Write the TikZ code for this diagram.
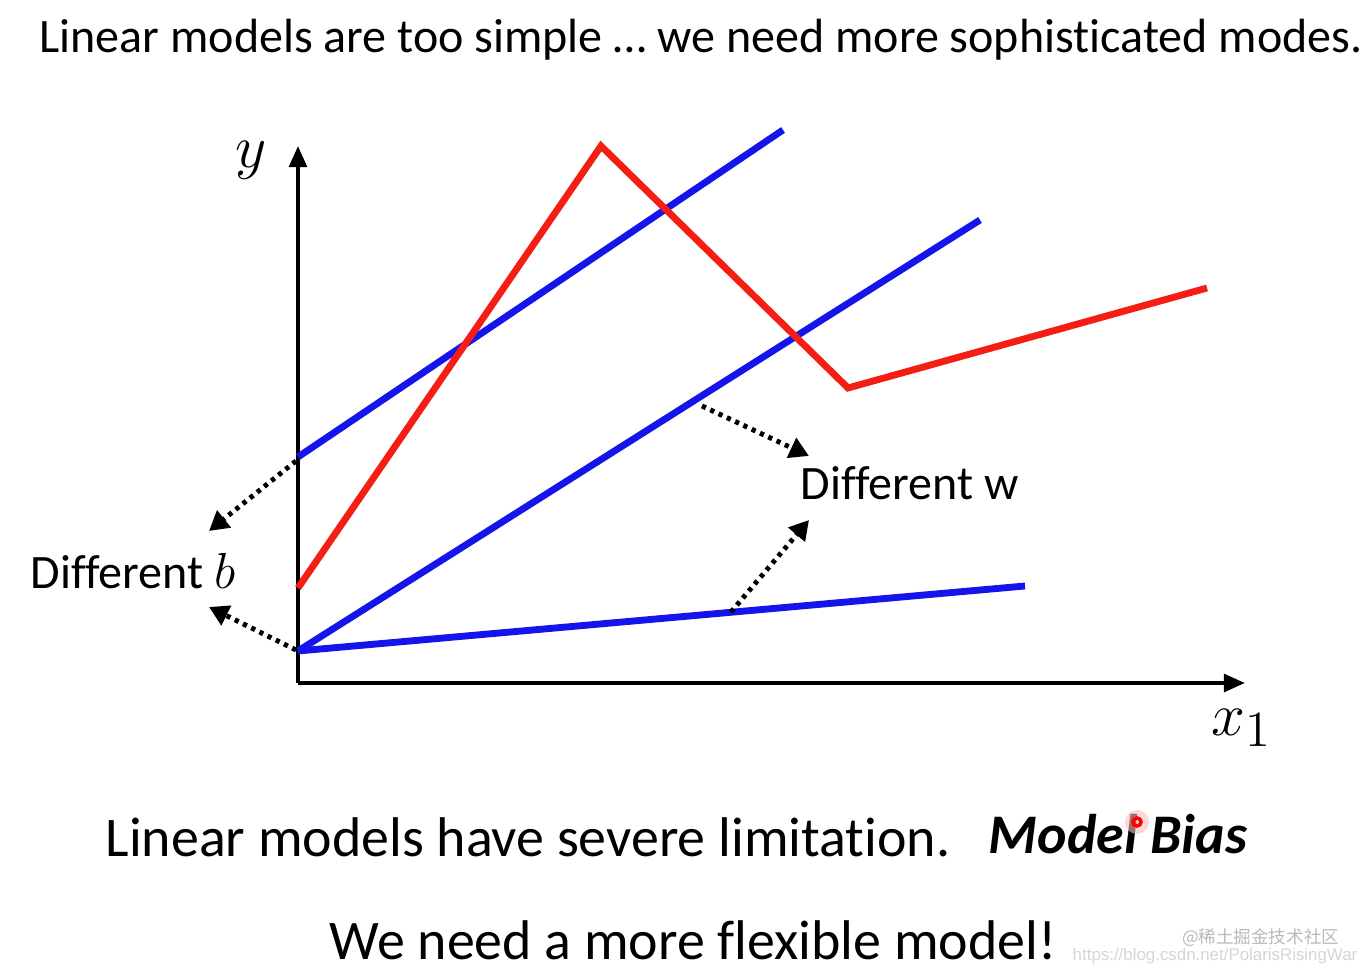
\documentclass[tikz,border=0pt]{standalone}
\usepackage{fontspec}
\setmainfont[Ligatures=NoCommon]{Carlito}
\newfontfamily\cjk{Noto Sans CJK SC}
\newfontfamily\wmsans{Liberation Sans}
\usetikzlibrary{arrows.meta}
\definecolor{lineblue}{RGB}{20,20,235}
\definecolor{linered}{RGB}{245,30,20}
\definecolor{wmgray}{RGB}{185,185,185}
\tikzset{
  axisline/.style={line width=1.15pt,-{Triangle[length=6pt,width=5pt]}},
  blueline/.style={lineblue,line width=1.95pt},
  redline/.style={linered,line width=1.95pt,line join=miter},
  dotarrow/.style={line width=1.4pt,dash pattern=on 1.2pt off 1.4pt,-{Triangle[length=5.5pt,width=6pt]}},
  txt/.style={inner sep=0pt,font=\fontsize{13.65pt}{16pt}\selectfont},
  bigtxt/.style={inner sep=0pt,font=\fontsize{15.9pt}{19pt}\selectfont},
  mathlbl/.style={inner sep=0pt,font=\fontsize{19pt}{22pt}\selectfont},
  wm/.style={inner sep=0pt,text=wmgray}
}
\begin{document}
\begin{tikzpicture}[x=0.01cm,y=-0.01cm]
\useasboundingbox (0,0) rectangle (1367,974);
% title
\node[txt] (title) at (701,40) {Linear models are too simple … we need more sophisticated modes.};
% axes
\coordinate (O) at (298,683);
\coordinate (ytip) at (298,146);
\coordinate (xtip) at (1245,683);
\draw[axisline] (O) -- (ytip);
\draw[axisline] (O) -- (xtip);
\node[mathlbl] (ylbl) at (251,160) {$y$};
\node[mathlbl] (xlbl) at (1242,728) {$x_1$};
% blue lines
\coordinate (b1s) at (298,457);
\coordinate (b1e) at (783,130);
\coordinate (b0) at (298,651);
\coordinate (b2e) at (980,220);
\coordinate (b3e) at (1025,586);
\draw[blueline] (b1s) -- (b1e);
\draw[blueline] (b0) -- (b2e);
\draw[blueline] (b0) -- (b3e);
% red curve
\coordinate (r0) at (298,588);
\coordinate (r1) at (601,146);
\coordinate (r2) at (848,388);
\coordinate (r3) at (1207,288);
\draw[redline] (r0) -- (r1) -- (r2) -- (r3);
% labels
\node[txt,anchor=west] (diffb) at (30,571) {Different $b$};
\node[txt,anchor=west] (diffw) at (800,483) {Different w};
% dotted arrows
\coordinate (db1) at (296,461);
\coordinate (db1e) at (209,531);
\coordinate (db2) at (296,650);
\coordinate (db2e) at (209,607);
\coordinate (dw1) at (702,406);
\coordinate (dw1e) at (809,456);
\coordinate (dw2) at (731,612);
\coordinate (dw2e) at (809,520);
\draw[dotarrow] (db1) -- (db1e);
\draw[dotarrow] (db2) -- (db2e);
\draw[dotarrow] (dw1) -- (dw1e);
\draw[dotarrow] (dw2) -- (dw2e);
% bottom text
\node[bigtxt] (lim) at (528,837) {Linear models have severe limitation.};
\node[bigtxt,font=\fontsize{15.9pt}{19pt}\selectfont\bfseries\itshape] (bias) at (1118,834) {Model Bias};
\fill[linered!30,opacity=0.6] (1137,822) circle[radius=12];
\draw[red,line width=1pt] (1137,822) circle[radius=4];
\node[bigtxt] (flex) at (693,940) {We need a more flexible model!};
% watermark
\node[wm,anchor=east,font=\cjk\fontsize{5pt}{6pt}\selectfont] (wm1) at (1340,938) {@稀土掘金技术社区};
\node[wm,anchor=east,font=\wmsans\fontsize{4.8pt}{6pt}\selectfont,text=wmgray!60] (wm2) at (1358,956) {https://blog.csdn.net/PolarisRisingWar};
\end{tikzpicture}
\end{document}
